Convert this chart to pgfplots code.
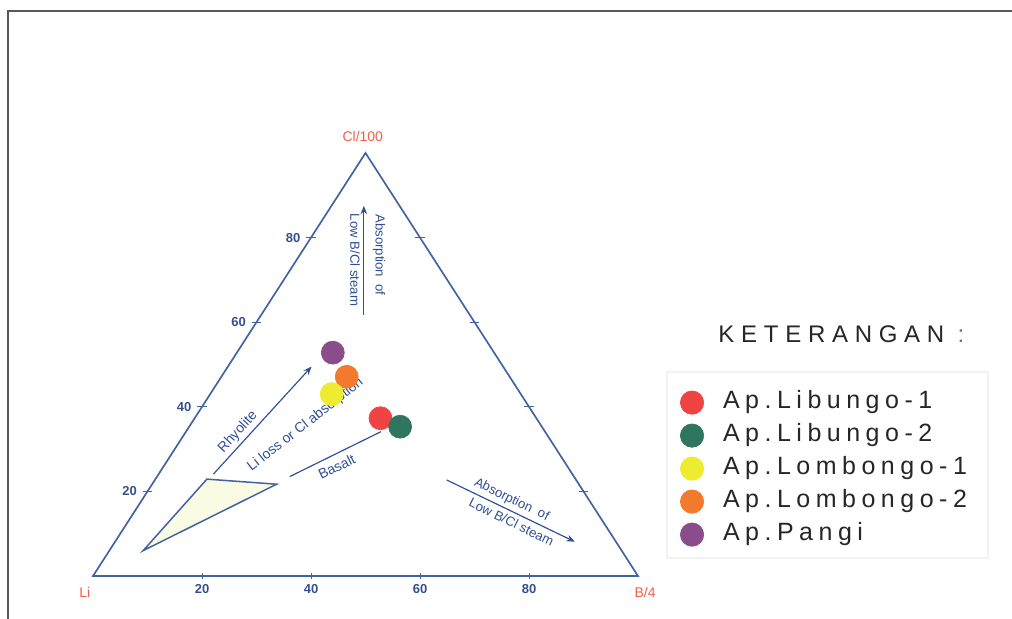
\documentclass[border=0pt]{standalone}
\usepackage{pgfplots}
\pgfplotsset{compat=1.18}
\usepackage{fontspec}
\setmainfont{Liberation Sans}
\newfontfamily\legfont[LetterSpace=22]{Liberation Sans}
\newfontfamily\keyfont[LetterSpace=28]{Liberation Sans}
\usetikzlibrary{arrows.meta}
\definecolor{tri}{HTML}{4262A0}
\definecolor{ann}{HTML}{2F4F95}
\definecolor{tickc}{HTML}{34508F}
\definecolor{corner}{HTML}{F0604A}
\definecolor{fillyel}{HTML}{FAFBE3}
\definecolor{cred}{HTML}{F04343}
\definecolor{cgreen}{HTML}{2F7660}
\definecolor{cyellow}{HTML}{EDEC2E}
\definecolor{corange}{HTML}{F27A2C}
\definecolor{cpurple}{HTML}{8A4D8C}
\newcommand\fs[1]{\fontsize{#1}{#1}\selectfont}
\begin{document}
\begin{tikzpicture}
\path[use as bounding box] (0pt,0pt) rectangle (607.2pt,371.4pt);
\draw[line width=1.3pt, black!65] (4.8pt,0pt) -- (4.8pt,364.8pt) -- (607.2pt,364.8pt);
\begin{axis}[
  at={(55.8pt,25.8pt)}, anchor=south west,
  x=3.27pt, y=2.538pt,
  xmin=0, xmax=100, ymin=0, ymax=100,
  axis x line*=bottom, axis y line=none,
  x axis line style={-, draw=tri, line width=1pt},
  xtick={20,40,60,80},
  xticklabel style={font=\bfseries\fs{7.8pt}, text=tickc},
  /pgf/number format/assume math mode=true,
  tick style={draw=tri, line width=0.6pt},
  major tick length=3.6pt, tick align=center,
  clip=false,
  legend style={
    at={(1.068,0.455)}, anchor=north west,
    draw=none, fill=none,
    font=\legfont\fs{15pt},
    text=black!85,
    row sep=1.3pt, column sep=9.6pt,
    nodes={text height=11pt, text depth=3.5pt, inner sep=2pt},
  },
  legend cell align=left,
]
% legend frame
\draw[black!5, line width=1.5pt] (axis cs:105.3,4.26) rectangle (axis cs:164.2,48.2);
\node[anchor=west, inner sep=0pt, font=\keyfont\fs{14.4pt}, text=black!85] at (axis cs:114.7,57.2) {KETERANGAN\ \textcolor{black!55}{:}};
% triangle
\addplot[tri, line width=1pt, forget plot] coordinates {(0,0) (100,0) (50,100)} -- cycle;
% side ticks
\draw[tri, line width=0.6pt] (axis cs:9.1,20) -- (axis cs:10.9,20);
\draw[tri, line width=0.6pt] (axis cs:19.1,40) -- (axis cs:20.9,40);
\draw[tri, line width=0.6pt] (axis cs:29.1,60) -- (axis cs:30.9,60);
\draw[tri, line width=0.6pt] (axis cs:39.1,80) -- (axis cs:40.9,80);
\draw[tri, line width=0.6pt] (axis cs:89.1,20) -- (axis cs:90.9,20);
\draw[tri, line width=0.6pt] (axis cs:79.1,40) -- (axis cs:80.9,40);
\draw[tri, line width=0.6pt] (axis cs:69.1,60) -- (axis cs:70.9,60);
\draw[tri, line width=0.6pt] (axis cs:59.1,80) -- (axis cs:60.9,80);
% left tick labels
\node[anchor=east, inner sep=0pt, font=\bfseries\fs{7.8pt}, text=tickc] at (axis cs:8.1,20) {20};
\node[anchor=east, inner sep=0pt, font=\bfseries\fs{7.8pt}, text=tickc] at (axis cs:18.1,40) {40};
\node[anchor=east, inner sep=0pt, font=\bfseries\fs{7.8pt}, text=tickc] at (axis cs:28.1,60) {60};
\node[anchor=east, inner sep=0pt, font=\bfseries\fs{7.8pt}, text=tickc] at (axis cs:38.1,80) {80};
% corner labels
\node[font=\fs{8.4pt}, text=corner] at (axis cs:-1.5,-3.8) {Li};
\node[font=\fs{8.4pt}, text=corner] at (axis cs:101.3,-3.8) {B/4};
\node[font=\fs{8.4pt}, text=corner] at (axis cs:49.5,104.0) {Cl/100};
% field triangle
\addplot[draw=tri, fill=fillyel, line width=0.9pt, forget plot] coordinates {(9.2,6.0) (20.9,22.9) (33.7,21.7)} -- cycle;
% arrows and lines
\draw[ann, line width=0.7pt, -{Stealth[length=5pt,width=4pt]}] (axis cs:22.1,24.1) -- (axis cs:40.1,49.5);
\draw[ann, line width=0.7pt] (axis cs:36.1,23.5) -- (axis cs:52.8,34.1);
\draw[ann, line width=0.7pt, -{Stealth[length=5pt,width=4pt]}] (axis cs:49.7,61.7) -- (axis cs:49.7,87.5);
\draw[ann, line width=0.7pt, -{Stealth[length=5pt,width=4pt]}] (axis cs:64.9,22.7) -- (axis cs:88.4,8.1);
% annotation texts
\node[text=ann, rotate=47.5, font=\fs{8.4pt}] at (axis cs:26.6,34.0) {Rhyolite};
\node[text=ann, rotate=38, font=\fs{8.4pt}] at (axis cs:39.0,35.7) {Li loss or Cl absorption};
\node[text=ann, rotate=26, font=\fs{8.4pt}] at (axis cs:44.7,25.8) {Basalt};
\node[text=ann, rotate=-90, font=\fs{7.9pt}] at (axis cs:52.5,75.9) {Absorption\ \ of};
\node[text=ann, rotate=-90, font=\fs{7.9pt}] at (axis cs:48.1,74.7) {Low B/Cl steam};
\node[text=ann, rotate=-26, font=\fs{7.9pt}] at (axis cs:76.8,18.0) {Absorption\ \ of};
\node[text=ann, rotate=-26, font=\fs{7.9pt}] at (axis cs:76.8,12.8) {Low B/Cl steam};
% data points (ternary: B/4 and Cl/100 percentages)
\addplot[only marks, mark=*, mark size=6.9pt, mark options={draw=cpurple, fill=cpurple}, forget plot]
  table[row sep=\\, x expr=\thisrow{B}+0.5*\thisrow{Cl}, y=Cl] {B Cl\\ 17.6 52.8\\};
\addplot[only marks, mark=*, mark size=6.9pt, mark options={draw=corange, fill=corange}, forget plot]
  table[row sep=\\, x expr=\thisrow{B}+0.5*\thisrow{Cl}, y=Cl] {B Cl\\ 23.0 47.1\\};
\addplot[only marks, mark=*, mark size=6.9pt, mark options={draw=cyellow, fill=cyellow}, forget plot]
  table[row sep=\\, x expr=\thisrow{B}+0.5*\thisrow{Cl}, y=Cl] {B Cl\\ 22.3 43.0\\};
\addplot[only marks, mark=*, mark size=6.9pt, mark options={draw=cred, fill=cred}, forget plot]
  table[row sep=\\, x expr=\thisrow{B}+0.5*\thisrow{Cl}, y=Cl] {B Cl\\ 34.1 37.3\\};
\addplot[only marks, mark=*, mark size=6.9pt, mark options={draw=cgreen, fill=cgreen}, forget plot]
  table[row sep=\\, x expr=\thisrow{B}+0.5*\thisrow{Cl}, y=Cl] {B Cl\\ 38.7 35.3\\};
% legend
\addlegendimage{only marks, mark=*, mark size=7pt, mark options={draw=cred, fill=cred}}
\addlegendentry{Ap.Libungo-1}
\addlegendimage{only marks, mark=*, mark size=7pt, mark options={draw=cgreen, fill=cgreen}}
\addlegendentry{Ap.Libungo-2}
\addlegendimage{only marks, mark=*, mark size=7pt, mark options={draw=cyellow, fill=cyellow}}
\addlegendentry{Ap.Lombongo-1}
\addlegendimage{only marks, mark=*, mark size=7pt, mark options={draw=corange, fill=corange}}
\addlegendentry{Ap.Lombongo-2}
\addlegendimage{only marks, mark=*, mark size=7pt, mark options={draw=cpurple, fill=cpurple}}
\addlegendentry{Ap.Pangi}
\end{axis}
\end{tikzpicture}
\end{document}
